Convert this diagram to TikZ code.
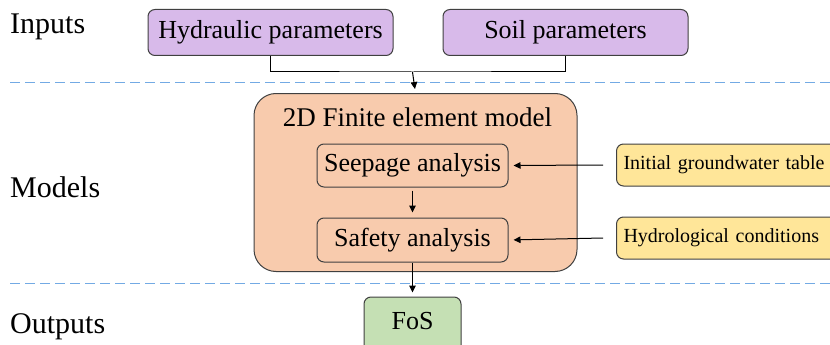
\documentclass[tikz,border=0pt]{standalone}
\usepackage{fontspec}
\setmainfont{Liberation Serif}
\usetikzlibrary{arrows.meta}
\definecolor{purp}{RGB}{216,186,234}
\definecolor{oran}{RGB}{248,203,173}
\definecolor{yell}{RGB}{255,230,153}
\definecolor{gree}{RGB}{197,224,180}
\definecolor{bord}{RGB}{64,64,64}
\definecolor{dashblue}{RGB}{115,170,228}
\tikzset{
  box/.style={draw=bord, line width=1pt, rounded corners=7pt, inner sep=0pt, font=\fontsize{26}{30}\selectfont},
  ybox/.style={draw=bord, line width=1pt, rounded corners=7pt, fill=yell, anchor=west, inner xsep=7pt, inner ysep=0pt, text width=215pt, align=left, minimum height=42pt, font=\fontsize{20}{24}\selectfont},
  sect/.style={anchor=west, inner sep=0pt, font=\fontsize{30}{34}\selectfont},
  arr/.style={-{Triangle[length=7pt,width=6.5pt]}, line width=1pt, black},
  conn/.style={line width=1pt, black},
  sep/.style={color=dashblue, line width=1pt, dash pattern=on 10pt off 5pt}
}
\begin{document}
\begin{tikzpicture}[x=1pt,y=-1pt]
\useasboundingbox (0,0) rectangle (830,345);
% section labels
\node[sect] (lin) at (10,27) {Inputs};
\node[sect] (lmod) at (10,187) {Models};
\node[sect] (lout) at (10,327) {Outputs};
% separators
\draw[sep] (10,83) -- (830,83);
\draw[sep] (10,283) -- (830,283);
% inputs
\node[box, fill=purp, minimum width=245pt, minimum height=46pt] (hyd) at (270.5,32.5) {Hydraulic parameters};
\node[box, fill=purp, minimum width=245pt, minimum height=46pt] (soil) at (565.5,32.5) {Soil parameters};
% model container
\node[box, fill=oran, rounded corners=22pt, minimum width=323pt, minimum height=178pt] (fem) at (415.5,182.5) {};
\node[inner sep=0pt, font=\fontsize{27}{30}\selectfont] (femt) at (417.5,117) {2D Finite element model};
\node[box, fill=oran, minimum width=191pt, minimum height=43pt] (seep) at (412.5,165.5) {Seepage analysis};
\node[box, fill=oran, minimum width=191pt, minimum height=44pt] (safe) at (412.5,240) {Safety analysis};
% side inputs
\node[ybox] (init) at (616,165) {Initial groundwater table};
\node[ybox] (hydro) at (616,238) {Hydrological conditions};
% output
\node[box, fill=gree, minimum width=97pt, minimum height=64pt] (fos) at (412.5,329) {};
\node[inner sep=0pt, font=\fontsize{26}{30}\selectfont] (fost) at (412.5,321) {FoS};
% connectors
\coordinate (j) at (412.5,72);
\draw[conn] (hyd.south) |- (j) -| (soil.south);
\draw[arr, shorten >=4pt] (j) -- (fem.north);
\draw[arr, shorten <=3pt, shorten >=5pt] (seep.south) -- (safe.north);
\draw[arr, shorten >=4pt] (safe.south) -- (fos.north);
\draw[arr, shorten >=5pt] ([xshift=-13pt]init.west) -- (seep.east);
\draw[arr, shorten >=5pt] ([xshift=-13pt]hydro.west) -- (safe.east);
\end{tikzpicture}
\end{document}
